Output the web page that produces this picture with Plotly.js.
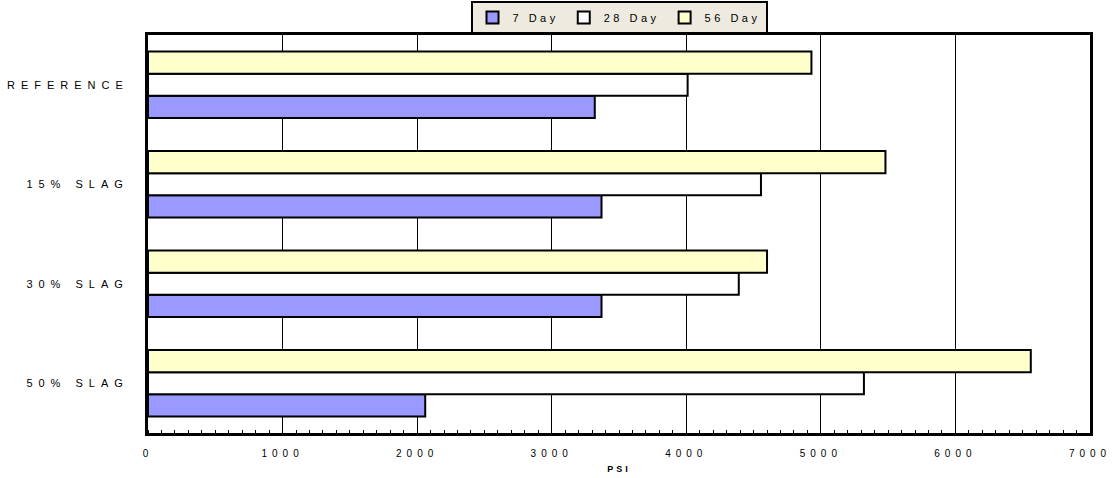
<!DOCTYPE html>
<html>
<head>
<meta charset="utf-8">
<script src="https://cdn.plot.ly/plotly-3.0.1.min.js"></script>
<style>
  body { margin: 0; background: #fff; }
  #chart { width: 1112px; height: 478px; }
  .ytick text { letter-spacing: 6px; }
  .xtick text { letter-spacing: 5px; }
  .legendtext { letter-spacing: 3.5px; }
  .xtitle { letter-spacing: 3px; }
</style>
</head>
<body>
<div id="chart"></div>
<script>
// Categories listed bottom-to-top
const categories = ['50% SLAG', '30% SLAG', '15% SLAG', 'REFERENCE'];
const seriesNames = ['7 Day', '28 Day', '56 Day'];
const day7  = [2060, 3370, 3370, 3320];
const day28 = [5320, 4390, 4555, 4010];
const day56 = [6560, 4600, 5480, 4930];
const xTickVals = [0, 1000, 2000, 3000, 4000, 5000, 6000, 7000];

const colors = ['#9999FF', '#FFFFFF', '#FFFFCC'];
const values = [day7, day28, day56];

const traces = values.map((v, i) => ({
  type: 'bar',
  orientation: 'h',
  name: seriesNames[i],
  y: categories,
  x: v,
  marker: { color: colors[i], line: { color: '#000', width: 2 } },
  hoverinfo: 'x'
}));

const layout = {
  width: 1112,
  height: 478,
  margin: { l: 148, r: 22, t: 35, b: 45 },
  paper_bgcolor: '#fff',
  plot_bgcolor: '#fff',
  font: { family: 'Liberation Sans, Arial, sans-serif', color: '#000' },
  barmode: 'group',
  bargap: 0.33,
  bargroupgap: 0,
  showlegend: true,
  legend: {
    orientation: 'h',
    xref: 'paper',
    x: 0.5, xanchor: 'center',
    yref: 'container',
    y: 1 - 1 / 478, yanchor: 'top',
    bgcolor: '#EEEAE0',
    bordercolor: '#000',
    borderwidth: 2,
    font: { size: 11, color: '#000' },
    itemwidth: 30,
    tracegroupgap: 0
  },
  xaxis: {
    range: [0, 7000],
    tickvals: xTickVals,
    ticktext: xTickVals.map(String),
    tickfont: { size: 10, color: '#000' },
    ticklabelstandoff: 9,
    showgrid: true,
    gridcolor: '#000',
    gridwidth: 1,
    showline: true,
    linecolor: '#000',
    linewidth: 3,
    mirror: true,
    zeroline: false,
    ticks: '',
    minor: { dtick: 100, ticks: 'inside', ticklen: 3, tickcolor: '#000', tickwidth: 1, showgrid: false },
    title: { text: '<b>PSI</b>', font: { size: 9, color: '#000' }, standoff: 8 },
    automargin: false,
    fixedrange: true
  },
  yaxis: {
    type: 'category',
    tickfont: { size: 11, color: '#000' },
    showgrid: false,
    showline: true,
    linecolor: '#000',
    linewidth: 3,
    mirror: true,
    zeroline: false,
    ticks: '',
    ticklabelstandoff: 14,
    automargin: false,
    fixedrange: true
  }
};

Plotly.newPlot('chart', traces, layout, { displayModeBar: false, staticPlot: true });
</script>
</body>
</html>
